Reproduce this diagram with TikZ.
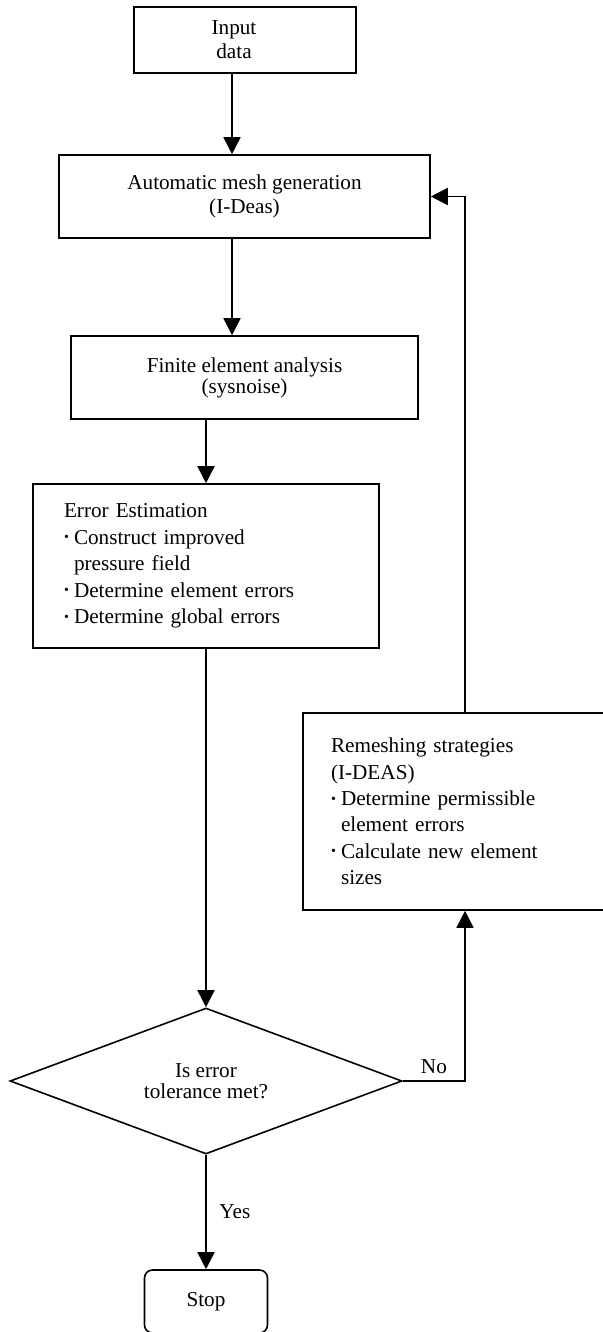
\documentclass[tikz,border=0pt]{standalone}
\usepackage{fontspec}
\setmainfont{Liberation Serif}
\usetikzlibrary{arrows.meta,shapes.geometric}
\newcommand\bitem{\makebox[5pt][l]{\raisebox{.25ex}{\scriptsize\textbullet}}}
\newcommand\bcont{\hspace*{5pt}}
\begin{document}
\begin{tikzpicture}[x=.5pt,y=-.5pt,>={Triangle[length=8.5pt,width=8.5pt]},line width=.8pt,
  font=\fontsize{10.6}{12}\selectfont,
  box/.style={draw,align=center,inner sep=0pt},
  listbox/.style={draw,align=left,inner ysep=0pt,font=\fontsize{10.6}{13.2}\selectfont}]
\useasboundingbox (0,0) rectangle (603,1332);

\node[box,minimum width=111pt,minimum height=33pt] (input) at (245,40) {Input\hspace*{11pt}\\data\hspace*{11pt}};
\node[box,minimum width=185.5pt,minimum height=41.5pt] (mesh) at (244.5,196.5) {Automatic mesh generation\\(I-Deas)};
\node[box,minimum width=173.5pt,minimum height=41.5pt,font=\fontsize{10.6}{10.5}\selectfont] (fea) at (244.5,377.5) {Finite element analysis\\(sysnoise)};
\node[listbox,text width=142pt,inner xsep=15.5pt,minimum height=82pt] (err) at (206,566)
  {Error Estimation\\ \bitem Construct improved\\ \bcont pressure field\\ \bitem Determine element errors\\ \bitem Determine global errors};
\node[listbox,text width=127pt,inner xsep=14pt,minimum height=98.5pt] (remesh) at (458,811.5)
  {Remeshing strategies\\ (I-DEAS)\\ \bitem Determine permissible\\ \bcont element errors\\ \bitem Calculate new element\\ \bcont sizes};
\node[diamond,draw,aspect=2.68,minimum width=196pt,minimum height=73pt,inner sep=0pt,align=center,font=\fontsize{10.6}{10.5}\selectfont] (test) at (206,1081) {Is error\\tolerance met?};
\node[box,rounded corners=4pt,minimum width=61.5pt,minimum height=31.5pt] (stop) at (206,1301.5) {Stop};

\coordinate (c1) at (232,0);
\coordinate (c2) at (465,0);
\draw[->] (input.south -| c1) -- (mesh.north -| c1);
\draw[->] (mesh.south -| c1) -- (fea.north -| c1);
\draw[->] (fea.south -| err) -- (err.north);
\draw[->] (err.south) -- (test.north);
\draw[->] (test.south) -- node[right,xshift=3pt]{Yes} (stop.north);
\draw[->] (test.east) -| node[pos=.25,above]{No} (remesh.south -| c2);
\draw[->] (remesh.north -| c2) |- (mesh.east);
\end{tikzpicture}
\end{document}
